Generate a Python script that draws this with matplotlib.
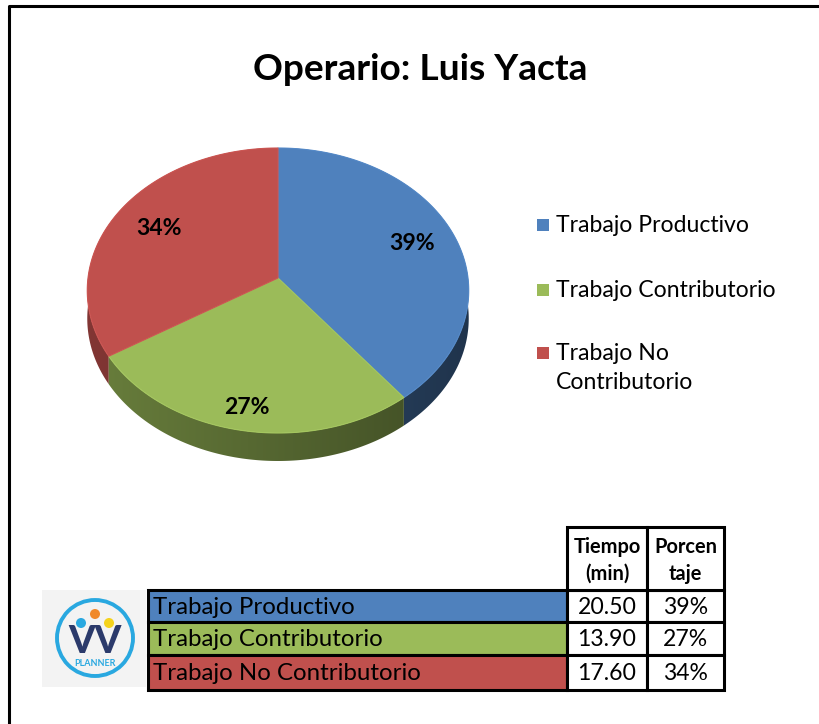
import numpy as np
import matplotlib
matplotlib.use("Agg")
import matplotlib.pyplot as plt
from matplotlib.patches import Polygon, Rectangle, Circle
from matplotlib.colors import LinearSegmentedColormap

plt.rcParams['font.family'] = ['Lato', 'DejaVu Sans']

# data
title = "Operario: Luis Yacta"
categories = ["Trabajo Productivo", "Trabajo Contributorio", "Trabajo No Contributorio"]
legend_labels = ["Trabajo Productivo", "Trabajo Contributorio", "Trabajo No\nContributorio"]
tiempo = [20.50, 13.90, 17.60]
colors = ["#4f81bd", "#9bbb59", "#c0504d"]
headers = ["Tiempo\n(min)", "Porcen\ntaje"]

total = sum(tiempo)
fracs = [t / total for t in tiempo]
pcts = ["%d%%" % round(f * 100) for f in fracs]

W, H = 819, 724
fig = plt.figure(figsize=(W / 100, H / 100), dpi=100)
ax = fig.add_axes([0, 0, 1, 1])
ax.set_xlim(0, W)
ax.set_ylim(H, 0)
ax.axis('off')

def px(p):
    return p * 0.72

# frame (only top and left visible)
ax.plot([9, 9, W + 5], [H + 5, 6, 6], color='black', lw=2.2, solid_capstyle='butt')

ax.text(420, 69, title, ha='center', va='center', fontsize=px(37), fontweight='bold')

# --- pseudo 3d pie with a bit of perspective ---
CX, CY = 278, 278
RX, RY = 190, 141.4
K = 0.0877
DEPTH = 28
label_r = [0.76, 0.86, 0.74]

def project(theta, r=1.0):
    u = np.sin(theta) * r
    v = -np.cos(theta) * r
    d = 1 - K * v
    return CX + RX * u / d, CY + RY * v / d

def shade(c, f):
    rgb = np.array(matplotlib.colors.to_rgb(c))
    return tuple(np.clip(rgb * f, 0, 1))

starts = np.cumsum([0] + fracs[:-1])
grad = np.linspace(0, 1, 256).reshape(1, -1)
tops = []
sides = []
for i, f in enumerate(fracs):
    t0 = 2 * np.pi * starts[i]
    t1 = 2 * np.pi * (starts[i] + f)
    th = np.linspace(t0, t1, 200)
    xs, ys = project(th)
    tops.append((np.column_stack([np.r_[CX, xs], np.r_[CY, ys]]), colors[i]))
    band = np.column_stack([np.r_[xs, xs[::-1]], np.r_[ys, ys[::-1] + DEPTH]])
    sides.append((np.mean(-np.cos(th)), band, colors[i]))

for _, band, c in sorted(sides, key=lambda s: s[0]):
    patch = Polygon(band, closed=True, facecolor='none', edgecolor='none')
    ax.add_patch(patch)
    cmap = LinearSegmentedColormap.from_list('s', [shade(c, 0.68), shade(c, 0.40)])
    im = ax.imshow(grad, cmap=cmap, aspect='auto', interpolation='bilinear',
                   extent=(CX - RX - 5, CX + RX + 5, CY + RY + 60, CY - RY - 20), zorder=1)
    im.set_clip_path(patch)
for poly, c in tops:
    ax.add_patch(Polygon(poly, closed=True, facecolor=c, edgecolor=shade(c, 1.06), lw=0.8, zorder=2))

for i, f in enumerate(fracs):
    mid = 2 * np.pi * (starts[i] + f / 2)
    lx, ly = project(mid, label_r[i])
    ax.text(lx, ly, pcts[i], ha='center', va='center', fontsize=px(23), fontweight='bold', zorder=3)

ax.set_xlim(0, W)
ax.set_ylim(H, 0)

# legend
leg_y = [225, 290, 353]
for i, lab in enumerate(legend_labels):
    ax.add_patch(Rectangle((537, leg_y[i] - 6), 12, 12, facecolor=colors[i], edgecolor='none'))
    ax.text(556, leg_y[i] - 10, lab, ha='left', va='top', fontsize=px(23), linespacing=1.45)

# table
x0, x1, x2, x3 = 148, 567, 647, 724
hy0, hy1 = 527, 590
row_h = [590, 622, 655, 690]
lw = 2.2
for i in range(3):
    ya, yb = row_h[i], row_h[i + 1]
    ax.add_patch(Rectangle((x0, ya), x1 - x0, yb - ya, facecolor=colors[i], edgecolor='black', lw=lw))
    ax.add_patch(Rectangle((x1, ya), x2 - x1, yb - ya, facecolor='white', edgecolor='black', lw=lw))
    ax.add_patch(Rectangle((x2, ya), x3 - x2, yb - ya, facecolor='white', edgecolor='black', lw=lw))
    ym = (ya + yb) / 2
    ax.text(x0 + 5, ym + 1, categories[i], ha='left', va='center', fontsize=px(24))
    ax.text((x1 + x2) / 2, ym + 1, "%.2f" % tiempo[i], ha='center', va='center', fontsize=px(23))
    ax.text((x2 + x3) / 2, ym + 1, pcts[i], ha='center', va='center', fontsize=px(23))
for xa, xb, h in [(x1, x2, headers[0]), (x2, x3, headers[1])]:
    ax.add_patch(Rectangle((xa, hy0), xb - xa, hy1 - hy0, facecolor='white', edgecolor='black', lw=lw))
    ax.text((xa + xb) / 2, (hy0 + hy1) / 2 + 2, h, ha='center', va='center', fontsize=px(20),
            fontweight='bold', linespacing=1.45)

# logo
ax.add_patch(Rectangle((42, 590), 104, 97, facecolor='#f3f3f3', edgecolor='none'))
ax.add_patch(Circle((95, 638), 38, facecolor='none', edgecolor='#29a8e0', lw=2.8))
for dx, dy, c in [(-14, -15, '#29a8e0'), (0, -24, '#f0892a'), (14, -15, '#f5d31c')]:
    ax.add_patch(Circle((95 + dx, 638 + dy), 5, facecolor=c, edgecolor='none'))
ax.text(95, 642, "VV", ha='center', va='center', fontsize=px(38), fontweight='black', color='#2b3a6b')
ax.text(95, 663, "PLANNER", ha='center', va='center', fontsize=px(9), fontweight='bold', color='#29a8e0')

fig.savefig("out.png", dpi=100)
